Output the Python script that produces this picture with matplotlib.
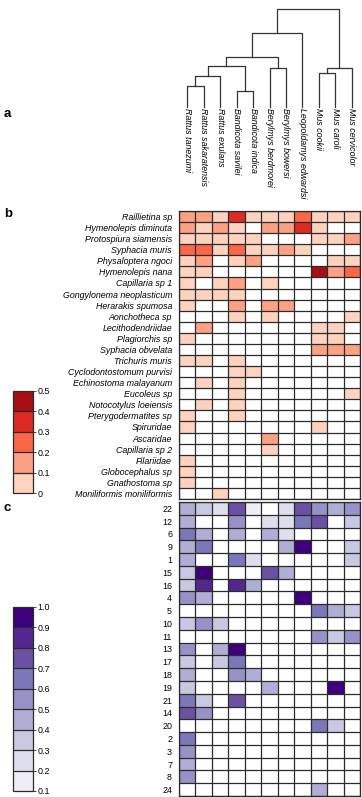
"""Host phylogeny with parasite prevalence (b) and community module (c) heatmaps."""

import matplotlib

matplotlib.use("Agg")

import matplotlib.pyplot as plt  # noqa: E402
import numpy as np  # noqa: E402
from matplotlib.colors import BoundaryNorm, ListedColormap  # noqa: E402

NA = np.nan

hosts = [
    "Rattus tanezumi", "Rattus sakaratensis", "Rattus exulans", "Bandicota savilei",
    "Bandicota indica", "Berylmys berdmorei", "Berylmys bowersi", "Leopoldamys edwardsi",
    "Mus cookii", "Mus caroli", "Mus cervicolor",
]

# dendrogram merges: node ids 0..10 are leaves, merge k creates node 11 + k
merge_left = [0, 11, 3, 12, 5, 14, 16, 8, 18, 17]
merge_right = [1, 2, 4, 13, 6, 15, 7, 9, 10, 19]
merge_height = [0.21, 0.31, 0.16, 0.41, 0.39, 0.50, 0.74, 0.34, 0.39, 0.98]

parasites = [
    "Raillietina sp", "Hymenolepis diminuta", "Protospiura siamensis", "Syphacia muris",
    "Physaloptera ngoci", "Hymenolepis nana", "Capillaria sp 1", "Gongylonema neoplasticum",
    "Herarakis spumosa", "Aonchotheca sp", "Lecithodendriidae", "Plagiorchis sp",
    "Syphacia obvelata", "Trichuris muris", "Cyclodontostomum purvisi", "Echinostoma malayanum",
    "Eucoleus sp", "Notocotylus loeiensis", "Pterygodermatites sp", "Spiruridae",
    "Ascaridae", "Capillaria sp 2", "Filariidae", "Globocephalus sp", "Gnathostoma sp",
    "Moniliformis moniliformis",
]

prevalence = [
    [0.15, 0.15, 0.05, 0.35, 0.05, 0.05, 0.05, 0.25, 0.05, 0.05, 0.05],
    [0.15, 0.05, 0.15, 0.05, NA, 0.15, 0.15, 0.35, 0.05, NA, NA],
    [0.05, 0.05, 0.05, 0.05, 0.05, NA, NA, NA, 0.05, 0.05, 0.15],
    [0.25, 0.25, 0.05, 0.25, 0.05, 0.05, 0.15, 0.05, NA, NA, NA],
    [0.05, 0.15, NA, 0.05, 0.15, NA, NA, NA, NA, 0.05, 0.05],
    [0.05, 0.05, NA, NA, NA, NA, NA, NA, 0.45, 0.15, 0.25],
    [0.05, NA, 0.05, 0.15, NA, 0.05, NA, NA, NA, NA, NA],
    [0.05, 0.05, 0.05, 0.05, NA, NA, NA, NA, NA, NA, NA],
    [0.05, NA, NA, 0.15, NA, 0.15, 0.15, NA, NA, NA, NA],
    [NA, NA, NA, 0.05, NA, 0.05, NA, NA, NA, NA, 0.05],
    [NA, 0.15, NA, NA, NA, NA, NA, NA, 0.05, 0.05, NA],
    [0.05, NA, NA, NA, NA, NA, NA, NA, 0.05, 0.05, NA],
    [NA, NA, NA, NA, NA, NA, NA, NA, 0.15, 0.15, 0.15],
    [0.05, 0.05, NA, 0.05, NA, NA, NA, NA, NA, NA, NA],
    [NA, NA, NA, 0.05, 0.05, NA, NA, NA, NA, NA, NA],
    [NA, 0.05, NA, 0.05, NA, NA, NA, NA, NA, NA, NA],
    [NA, NA, NA, 0.05, NA, NA, NA, NA, NA, NA, 0.05],
    [NA, 0.05, NA, 0.05, NA, NA, NA, NA, NA, NA, NA],
    [0.05, NA, NA, 0.05, NA, NA, NA, NA, NA, NA, NA],
    [0.05, NA, NA, NA, NA, NA, NA, NA, 0.05, NA, NA],
    [NA, NA, NA, NA, NA, 0.15, NA, NA, NA, NA, NA],
    [NA, NA, NA, NA, NA, 0.05, NA, NA, NA, NA, NA],
    [0.05, NA, NA, NA, NA, NA, NA, NA, NA, NA, NA],
    [0.05, NA, NA, NA, NA, NA, NA, NA, NA, NA, NA],
    [0.05, NA, NA, NA, NA, NA, NA, NA, NA, NA, NA],
    [NA, NA, 0.05, NA, NA, NA, NA, NA, NA, NA, NA],
]

modules = ["22", "12", "6", "9", "1", "15", "16", "4", "5", "10", "11", "13",
           "17", "18", "19", "21", "14", "20", "2", "3", "7", "8", "24"]

module_values = [
    [0.45, 0.35, 0.25, 0.75, 0.15, NA, 0.25, 0.75, 0.55, 0.45, 0.55],
    [0.45, NA, NA, 0.55, NA, 0.25, 0.25, 0.65, 0.75, NA, 0.35],
    [0.65, 0.45, NA, 0.45, NA, 0.45, 0.25, NA, NA, NA, NA],
    [0.45, 0.65, NA, NA, NA, NA, 0.45, 0.95, NA, NA, 0.35],
    [0.45, NA, NA, 0.65, 0.25, NA, NA, NA, NA, NA, 0.35],
    [0.35, 0.95, NA, NA, NA, 0.75, 0.45, NA, NA, NA, NA],
    [0.35, 0.85, NA, 0.85, 0.45, NA, NA, NA, NA, NA, NA],
    [0.55, 0.45, NA, NA, NA, NA, NA, 0.95, NA, NA, NA],
    [NA, NA, NA, NA, NA, NA, NA, NA, 0.65, 0.45, 0.35],
    [0.35, 0.55, 0.35, NA, NA, NA, NA, NA, NA, NA, NA],
    [NA, NA, NA, NA, NA, NA, NA, NA, 0.55, 0.35, 0.55],
    [0.55, NA, 0.45, 0.95, NA, NA, NA, NA, NA, NA, NA],
    [0.35, NA, 0.35, 0.65, NA, NA, NA, NA, NA, NA, NA],
    [0.45, NA, NA, 0.55, 0.45, NA, NA, NA, NA, NA, NA],
    [0.35, NA, NA, NA, NA, 0.45, NA, NA, NA, 0.95, NA],
    [0.65, 0.35, NA, 0.75, NA, NA, NA, NA, NA, NA, NA],
    [0.75, 0.55, NA, NA, NA, NA, NA, NA, NA, NA, NA],
    [NA, NA, NA, NA, NA, NA, NA, NA, 0.65, 0.35, NA],
    [0.65, NA, NA, NA, NA, NA, NA, NA, NA, NA, NA],
    [0.55, NA, NA, NA, NA, NA, NA, NA, NA, NA, NA],
    [0.45, NA, NA, NA, NA, NA, NA, NA, NA, NA, NA],
    [0.55, NA, NA, NA, NA, NA, NA, NA, NA, NA, NA],
    [NA, NA, NA, NA, NA, NA, NA, NA, 0.45, NA, NA],
]

red_bounds = [0, 0.1, 0.2, 0.3, 0.4, 0.5]
red_ticklabels = ["0", "0.1", "0.2", "0.3", "0.4", "0.5"]
purple_bounds = [0.1, 0.2, 0.3, 0.4, 0.5, 0.6, 0.7, 0.8, 0.9, 1.0]

RED_COLORS = ["#fdd3bf", "#fca184", "#fa6647", "#dc2a25", "#a50f15"]
PURPLE_COLORS = ["#efedf5", "#dfdeed", "#c9c8e2", "#b0aed4", "#9692c6",
                 "#7c77b8", "#6a51a3", "#54278f", "#3f007d"]
LINE = "#2b2b2b"
FONT = ["Liberation Sans", "DejaVu Sans"]
FS = 6.4

plt.rcParams["font.family"] = FONT
plt.rcParams["font.size"] = FS

W, H = 362, 797


def rect(x0, y0, x1, y1):
    """Pixel box (top-left origin) -> figure fraction rect."""
    return [x0 / W, 1 - y1 / H, (x1 - x0) / W, (y1 - y0) / H]


def heatmap(ax, values, labels, colors, bounds, italic):
    data = np.ma.masked_invalid(np.array(values, dtype=float))
    cmap = ListedColormap(colors)
    norm = BoundaryNorm(bounds, cmap.N)
    nrow, ncol = data.shape
    mesh = ax.pcolormesh(np.arange(ncol + 1), np.arange(nrow + 1), data, cmap=cmap, norm=norm)
    ax.set_xlim(0, ncol)
    ax.set_ylim(nrow, 0)
    ax.set_xticks([])
    ax.set_yticks(np.arange(nrow) + 0.5)
    ax.set_yticklabels(labels, style="italic" if italic else "normal", fontsize=FS)
    ax.set_xticks(np.arange(ncol + 1), minor=True)
    ax.set_yticks(np.arange(nrow + 1), minor=True)
    ax.grid(which="minor", color=LINE, linewidth=0.9)
    ax.tick_params(which="both", length=0, pad=5)
    for sp in ax.spines.values():
        sp.set_color(LINE)
        sp.set_linewidth(0.9)
    return mesh


def colorbar(fig, cax, mesh, ticks, ticklabels):
    cb = fig.colorbar(mesh, cax=cax, drawedges=True, ticks=ticks)
    cb.set_ticklabels(ticklabels)
    cb.outline.set_edgecolor(LINE)
    cb.outline.set_linewidth(0.9)
    cb.dividers.set_color(LINE)
    cb.dividers.set_linewidth(0.9)
    cax.tick_params(length=2, width=0.6, pad=1, labelsize=FS, color=LINE)
    return cb


fig = plt.figure(figsize=(W / 100, H / 100), dpi=100)

# a: host dendrogram
ax_d = fig.add_axes(rect(179, 9, 360, 107))
pos = {i: (i + 0.5, 0.0) for i in range(len(hosts))}
for k, (a, b, h) in enumerate(zip(merge_left, merge_right, merge_height)):
    xa, ya = pos[a]
    xb, yb = pos[b]
    ax_d.plot([xa, xa, xb, xb], [ya, h, h, yb], color="#333333", linewidth=0.9,
              solid_capstyle="projecting", clip_on=False)
    pos[len(hosts) + k] = ((xa + xb) / 2, h)
ax_d.set_xlim(0, len(hosts))
ax_d.set_ylim(0, max(merge_height))
ax_d.axis("off")
for i, name in enumerate(hosts):
    ax_d.text(i + 0.5, -0.015, name, rotation=-90, ha="center", va="top",
              style="italic", fontsize=FS)

# b: parasite prevalence
ax_b = fig.add_axes(rect(179, 211, 360, 499))
mesh_b = heatmap(ax_b, prevalence, parasites, RED_COLORS, red_bounds, italic=True)
cax_b = fig.add_axes(rect(13, 391, 33, 493))
colorbar(fig, cax_b, mesh_b, red_bounds, red_ticklabels)

# c: module membership
ax_c = fig.add_axes(rect(179, 502, 360, 796))
mesh_c = heatmap(ax_c, module_values, modules, PURPLE_COLORS, purple_bounds, italic=False)
cax_c = fig.add_axes(rect(13, 607, 33, 791))
colorbar(fig, cax_c, mesh_c, purple_bounds, [f"{b:.1f}" for b in purple_bounds])

for letter, y in [("a", 114), ("b", 214), ("c", 508)]:
    fig.text(4 / W, 1 - y / H, letter, fontsize=9.5, fontweight="bold", va="center", ha="left")

fig.savefig("out.png", dpi=100)
plt.close(fig)
